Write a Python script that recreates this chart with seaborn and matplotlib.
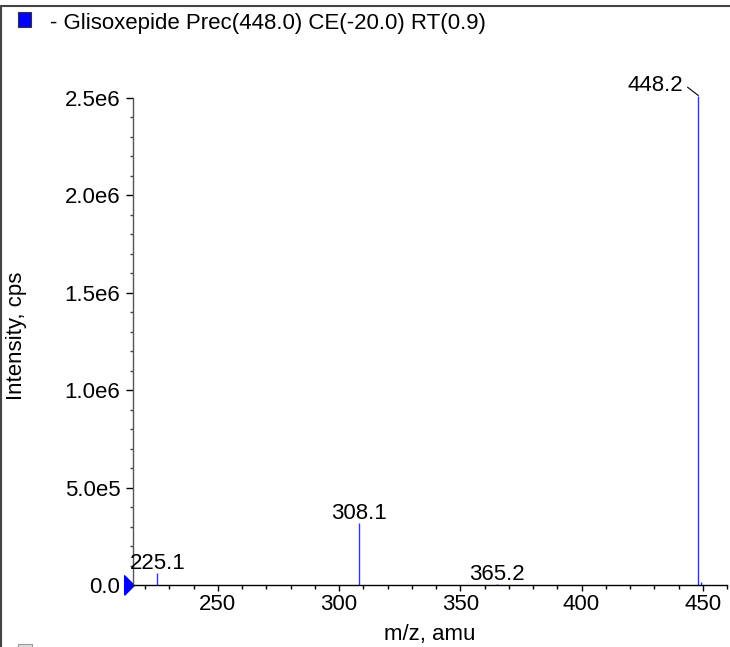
import matplotlib
matplotlib.use("Agg")
import matplotlib.pyplot as plt
import seaborn as sns
from matplotlib.lines import Line2D
from matplotlib.patches import Rectangle
from matplotlib.ticker import FixedLocator, FixedFormatter, MultipleLocator

# spectrum data (m/z, intensity in cps)
mz = [225.1, 308.1, 365.2, 448.2, 449.2]
intensity = [6.3e4, 3.18e5, 5.0e3, 2.51e6, 1.5e4]
peak_labels = ["225.1", "308.1", "365.2", "448.2", ""]

y_ticks = [0, 5e5, 1e6, 1.5e6, 2e6, 2.5e6]
y_ticklabels = ["0.0", "5.0e5", "1.0e6", "1.5e6", "2.0e6", "2.5e6"]
x_ticks = [250, 300, 350, 400, 450]

title_text = "- Glisoxepide Prec(448.0) CE(-20.0) RT(0.9)"

sns.set_theme(style="ticks")
plt.rcParams['font.family'] = ['Liberation Sans', 'DejaVu Sans']
plt.rcParams['text.color'] = 'black'
plt.rcParams['axes.labelcolor'] = 'black'
fs = 16

W, H = 730, 647
fig = plt.figure(figsize=(W / 100, H / 100), dpi=100)


def fx(x):
    return x / W


def fy(y):
    return 1 - y / H


ax = fig.add_axes([fx(133), fy(585.3), fx(727) - fx(133), fy(97.5) - fy(585.3)])

ax.vlines(mz, 0, intensity, color="#3030ff", lw=1.0, clip_on=False)
ax.set_xlim(215, 460)
ax.set_ylim(0, 2.5e6)

# peak labels
for m, v, lab in zip(mz, intensity, peak_labels):
    if not lab:
        continue
    if v > 2e6:
        ax.annotate(lab, xy=(m, v), xytext=(-11, 3), textcoords="offset points",
                    ha="right", va="baseline", fontsize=fs, color="black",
                    annotation_clip=False,
                    arrowprops=dict(arrowstyle="-", lw=0.8, color="black",
                                    shrinkA=1, shrinkB=0, relpos=(1, 0.6)))
    else:
        ax.annotate(lab, xy=(m, v), xytext=(0, 3), textcoords="offset points",
                    ha="center", va="baseline", fontsize=fs, color="black")

# ticks
ax.yaxis.set_major_locator(FixedLocator(y_ticks))
ax.yaxis.set_major_formatter(FixedFormatter(y_ticklabels))
ax.yaxis.set_minor_locator(MultipleLocator(1e5))
ax.xaxis.set_major_locator(FixedLocator(x_ticks))
ax.xaxis.set_minor_locator(MultipleLocator(10))
ax.tick_params(axis="both", which="major", labelsize=fs, colors="black", width=1)
ax.tick_params(axis="x", which="major", length=4.5, pad=2)
ax.tick_params(axis="x", which="minor", length=2.7, width=1, color="black")
ax.tick_params(axis="y", which="major", length=5, pad=4)
ax.tick_params(axis="y", which="minor", length=2.4, width=1, color="#444444")

sns.despine(ax=ax)
ax.spines["left"].set_color("#555555")
ax.spines["bottom"].set_color("black")
ax.spines["left"].set_linewidth(1)
ax.spines["bottom"].set_linewidth(1)

ax.set_xlabel("m/z, amu", fontsize=fs, va="baseline", color="black")
ax.xaxis.set_label_coords(0.5, (585.3 - 640) / 487.8)
ax.set_ylabel("Intensity, cps", fontsize=fs, va="center", color="black")
ax.yaxis.set_label_coords((16.5 - 133) / 594, (585.3 - 336) / 487.8)

# blue marker at the y origin
ax.plot([-4.5 / 594], [0], transform=ax.get_yaxis_transform(), clip_on=False,
        marker=[(-1, -2), (1, 0), (-1, 2), (-1, -2)], markersize=14,
        color="#0000ff", markeredgecolor="#0000ff", linestyle="none")

# legend entry at the top
fig.patches.append(Rectangle((fx(18), fy(27)), fx(13), fy(12) - fy(27),
                             transform=fig.transFigure, facecolor="#0000ff",
                             edgecolor="#333333", lw=0.8))
fig.text(fx(50), fy(29), title_text, fontsize=fs, ha="left", va="baseline",
         color="black")

# partial marker at the bottom edge
fig.patches.append(Rectangle((fx(18), fy(658)), fx(14), fy(644) - fy(658),
                             transform=fig.transFigure, facecolor="#dddddd",
                             edgecolor="#999999", lw=0.8))

# frame lines
fig.add_artist(Line2D([fx(1.5), fx(1.5)], [0, fy(5.5)], transform=fig.transFigure,
                      color="#444444", lw=1.5))
fig.add_artist(Line2D([fx(1.5), 1], [fy(5.5), fy(5.5)], transform=fig.transFigure,
                      color="#444444", lw=1.5))

fig.savefig("out.png", dpi=100)
